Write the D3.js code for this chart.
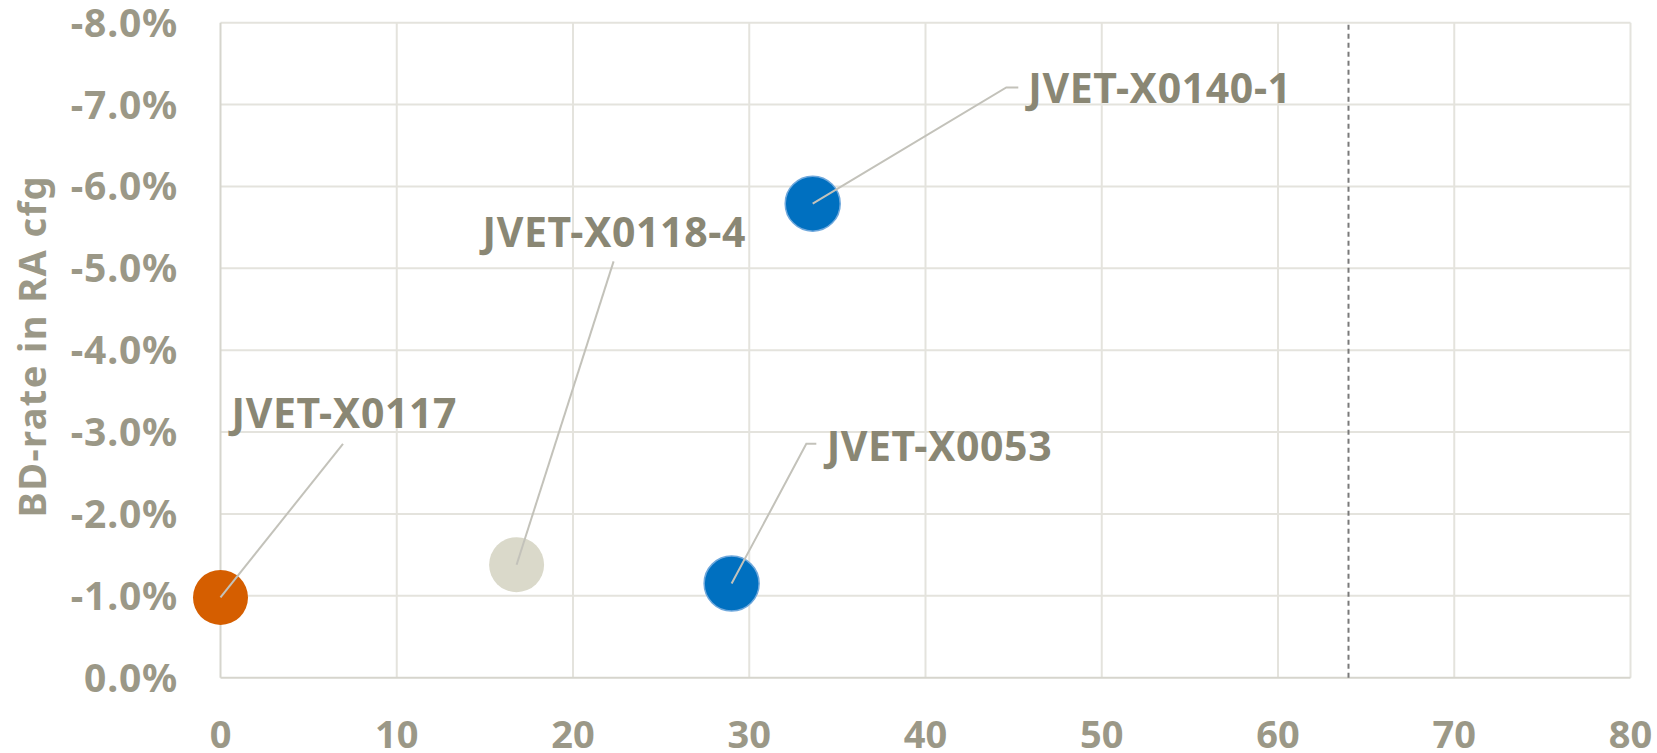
<!DOCTYPE html>
<html>
<head>
<meta charset="utf-8">
<script src="https://cdn.jsdelivr.net/npm/d3@7"></script>
<style>
  html, body { margin: 0; padding: 0; background: #ffffff; }
  svg { display: block; }
  text { font-family: "Noto Sans", "Open Sans", sans-serif; font-weight: 700; }
</style>
</head>
<body>
<svg id="chart" width="1657" height="753"></svg>
<script>
// Proposals: complexity (x) vs. BD-rate in random-access configuration (y)
const proposals = ["JVET-X0117", "JVET-X0118-4", "JVET-X0053", "JVET-X0140-1"];
const complexity = [0, 16.8, 29.0, 33.6];
const bdRate = [-0.0098, -0.0138, -0.0115, -0.0579];
const pointColors = ["#D55E00", "#DAD9CA", "#0070C0", "#0070C0"];
const pointStrokes = ["none", "none", "#6FA8DC", "#6FA8DC"];

const xTicks = [0, 10, 20, 30, 40, 50, 60, 70, 80];
const yTicks = [0, -0.01, -0.02, -0.03, -0.04, -0.05, -0.06, -0.07, -0.08];
const referenceX = 64;
const yTitle = "BD-rate in RA cfg";

// Label placement relative to each point (pixels): text anchor and leader path
const labelOffsets = [
  { tx: 11, ty: -169, leader: [[122.5, -153.7]] },
  { tx: -34, ty: -318, leader: [[97, -303.3]] },
  { tx: 95, ty: -122.5, leader: [[74.7, -139.7], [84.7, -139.7]] },
  { tx: 215.6, ty: -101, leader: [[193.6, -116.2], [205.6, -116.2]] }
];

const margin = { left: 220.5, right: 1657 - 1630.5, top: 22.7, bottom: 753 - 677.7 };
const W = 1657, H = 753;

const svg = d3.select("#chart");
const x = d3.scaleLinear().domain([0, 80]).range([margin.left, W - margin.right]);
const y = d3.scaleLinear().domain([0, -0.08]).range([H - margin.bottom, margin.top]);

const loc = d3.formatLocale({ decimal: ".", thousands: ",", grouping: [3], currency: ["$", ""], minus: "-" });
const pct = loc.format(".1%");

const gridColor = "#E4E3DD";
const axisColor = "#D6D5CD";
const tickColor = "#9B9887";
const labelColor = "#8A8774";

// Gridlines
svg.append("g").selectAll("line.h").data(yTicks.slice(1)).join("line")
  .attr("x1", x(0)).attr("x2", x(80))
  .attr("y1", d => y(d)).attr("y2", d => y(d))
  .attr("stroke", gridColor).attr("stroke-width", 2);
svg.append("g").selectAll("line.v").data(xTicks.slice(1)).join("line")
  .attr("x1", d => x(d)).attr("x2", d => x(d))
  .attr("y1", y(0)).attr("y2", y(-0.08))
  .attr("stroke", gridColor).attr("stroke-width", 2);

// Axis lines
svg.append("line").attr("x1", x(0)).attr("x2", x(0)).attr("y1", y(0)).attr("y2", y(-0.08))
  .attr("stroke", axisColor).attr("stroke-width", 2);
svg.append("line").attr("x1", x(0)).attr("x2", x(80)).attr("y1", y(0)).attr("y2", y(0))
  .attr("stroke", axisColor).attr("stroke-width", 2);

// Reference line
svg.append("line").attr("x1", x(referenceX)).attr("x2", x(referenceX))
  .attr("y1", y(0)).attr("y2", y(-0.08))
  .attr("stroke", "#7A7A7A").attr("stroke-width", 2).attr("stroke-dasharray", "5,4");

// Tick labels
svg.append("g").selectAll("text").data(yTicks).join("text")
  .attr("x", 178).attr("y", d => y(d)).attr("dy", "0.36em")
  .attr("text-anchor", "end").attr("fill", tickColor).attr("font-size", 39)
  .attr("letter-spacing", 0.8)
  .text(d => pct(d));
svg.append("g").selectAll("text").data(xTicks).join("text")
  .attr("x", d => x(d)).attr("y", 748)
  .attr("text-anchor", "middle").attr("fill", tickColor).attr("font-size", 38)
  .text(d => d);

// Axis title
svg.append("text")
  .attr("transform", `translate(46, ${(y(0) + y(-0.08)) / 2 - 4}) rotate(-90)`)
  .attr("text-anchor", "middle").attr("fill", tickColor).attr("font-size", 38)
  .attr("letter-spacing", 1.4)
  .text(yTitle);

// Points
const pts = proposals.map((p, i) => ({ name: p, cx: x(complexity[i]), cy: y(bdRate[i]), i }));
svg.append("g").selectAll("circle").data(pts).join("circle")
  .attr("cx", d => d.cx).attr("cy", d => d.cy).attr("r", 27.5)
  .attr("fill", d => pointColors[d.i])
  .attr("stroke", d => pointStrokes[d.i]).attr("stroke-width", 1.5);

// Leader lines
const line = d3.line();
svg.append("g").selectAll("path").data(pts).join("path")
  .attr("d", d => line([[d.cx, d.cy], ...labelOffsets[d.i].leader.map(o => [d.cx + o[0], d.cy + o[1]])]))
  .attr("fill", "none").attr("stroke", "#C3C2BA").attr("stroke-width", 2);

// Data labels
svg.append("g").selectAll("text").data(pts).join("text")
  .attr("x", d => d.cx + labelOffsets[d.i].tx)
  .attr("y", d => d.cy + labelOffsets[d.i].ty)
  .attr("fill", labelColor).attr("font-size", 41)
  .attr("letter-spacing", 0.6)
  .text(d => d.name);
</script>
</body>
</html>
